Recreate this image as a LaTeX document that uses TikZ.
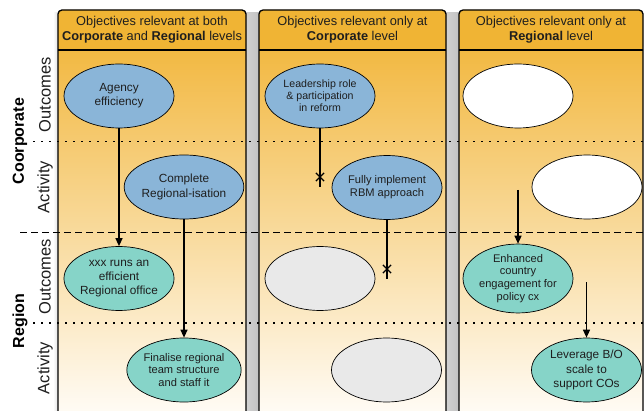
\documentclass[tikz,border=0pt]{standalone}
\usepackage{fontspec}
\setmainfont{Liberation Sans}
\usetikzlibrary{shapes.geometric,shapes.misc,arrows.meta}
\definecolor{cHead}{HTML}{F0B434}
\definecolor{cTop}{HTML}{F2B943}
\definecolor{cMid}{HTML}{F8D9A2}
\definecolor{cBot}{HTML}{FFFBF4}
\definecolor{cBlue}{HTML}{8AB5D8}
\definecolor{cTeal}{HTML}{86D4C8}
\definecolor{cGrey}{HTML}{E9E9E9}
\definecolor{txt}{HTML}{1E1E1E}
\tikzset{
  colbody/.style={top color=cTop, middle color=cMid, bottom color=cBot},
  sepstrip/.style={left color=black!18, middle color=black!4, right color=black!24},
  colline/.style={draw=black, line width=1.3pt, rounded corners=4pt},
  headtxt/.style={align=center, text=txt, inner sep=0pt, font=\fontsize{12.8}{15}\selectfont},
  obj/.style={ellipse, draw=black, line width=0.7pt, minimum width=110pt, minimum height=64pt,
    inner sep=0pt, align=center, text=txt, font=\fontsize{11.8}{14.3}\selectfont},
  midfont/.style={font=\fontsize{11.1}{12.8}\selectfont},
  smallfont/.style={font=\fontsize{10.6}{12.2}\selectfont},
  blueobj/.style={obj, fill=cBlue},
  tealobj/.style={obj, fill=cTeal},
  greyobj/.style={obj, fill=cGrey},
  whiteobj/.style={obj, fill=white},
  arr/.style={line width=1.3pt, -{Triangle[length=8pt,width=7pt]}},
  plainline/.style={line width=1.3pt},
  xmark/.style={cross out, draw=black, line width=1.2pt, minimum size=7pt, inner sep=0pt},
  dotline/.style={line width=1.3pt, dash pattern=on 2pt off 6pt},
  dashline/.style={line width=1.5pt, dash pattern=on 7pt off 4pt},
  grouplab/.style={rotate=90, font=\bfseries\fontsize{16}{18}\selectfont, text=black, inner sep=0pt},
  rowlab/.style={rotate=90, font=\fontsize{16.5}{18}\selectfont, text=txt, inner sep=0pt},
}
\begin{document}
\begin{tikzpicture}[x=1pt,y=-1pt]
\useasboundingbox (0,0) rectangle (644,411);
\fill[white] (0,0) rectangle (644,411);
% separators between columns
\fill[sepstrip] (246,13) rectangle (259,411);
\fill[sepstrip] (446,13) rectangle (459,411);
\fill[left color=white, right color=black!12] (53,13) rectangle (58,411);
% column bodies
\foreach \l/\r in {58/246, 259/446, 459/643}{
  \fill[colbody] (\l,50) rectangle (\r,411);
  \fill[cHead, rounded corners=4pt] (\l,50) -- (\l,10) -- (\r,10) -- (\r,50) -- cycle;
  \fill[cHead] (\l,40) rectangle (\r,50);
  \draw[colline] (\l,412) -- (\l,10) -- (\r,10) -- (\r,412);
  \draw[line width=1.1pt] (\l,50) -- (\r,50);
}
% header texts
\node[headtxt] (h1) at (152,29.5) {Objectives relevant at both\\\textbf{Corporate} and \textbf{Regional} levels};
\node[headtxt] (h2) at (352.5,29.5) {Objectives relevant only at\\\textbf{Corporate} level};
\node[headtxt] (h3) at (551,29.5) {Objectives relevant only at\\\textbf{Regional} level};
% row separators
\draw[dotline] (33,141.7) -- (644,141.7);
\draw[dashline] (20,232.7) -- (644,232.7);
\draw[dotline] (33,323) -- (644,323);
% left labels
\node[grouplab] (lc) at (20,141) {Coorporate};
\node[grouplab] (lr) at (20,321) {Region};
\node[rowlab] (lco) at (45,95) {Outcomes};
\node[rowlab] (lca) at (45,187) {Activity};
\node[rowlab] (lro) at (45,277) {Outcomes};
\node[rowlab] (lra) at (45,368) {Activity};
% ellipses column 1
\node[blueobj] (agency) at (119,96) {Agency\\efficiency};
\node[blueobj] (complete) at (184,187) {Complete\\Regional-isation};
\node[tealobj] (xxx) at (119,278.5) {xxx runs an\\efficient\\Regional office};
\node[tealobj, midfont] (finalise) at (184,370) {Finalise regional\\team structure\\and staff it};
% column 2
\node[blueobj, smallfont] (leader) at (320,96) {Leadership role\\\& participation\\in reform};
\node[blueobj, midfont] (rbm) at (387,187.5) {Fully implement\\RBM approach};
\node[greyobj] (g1) at (320,278.5) {};
\node[greyobj] (g2) at (386.5,370) {};
% column 3
\node[whiteobj] (w1) at (518,96) {};
\node[whiteobj] (w2) at (587,187) {};
\node[tealobj, midfont] (enh) at (518,278.5) {Enhanced\\country\\engagement for\\policy cx};
\node[tealobj] (lev) at (586.5,370) {Leverage B/O\\scale to\\support COs};
% connectors
\draw[arr] (agency.south) -- (xxx.north);
\draw[arr] (complete.south) -- (finalise.north);
\coordinate (e1) at (320,187);
\coordinate (e2) at (387,279);
\draw[plainline] (leader.south) -- (e1);
\draw[plainline] (rbm.south) -- (e2);
\node[xmark] (x1) at (320,177) {};
\node[xmark] (x2) at (387,269) {};
\coordinate (s1) at (518,190);
\coordinate (s2) at (586.5,282);
\draw[arr] (s1) -- (enh.north);
\draw[arr] (s2) -- (lev.north);
\end{tikzpicture}
\end{document}
